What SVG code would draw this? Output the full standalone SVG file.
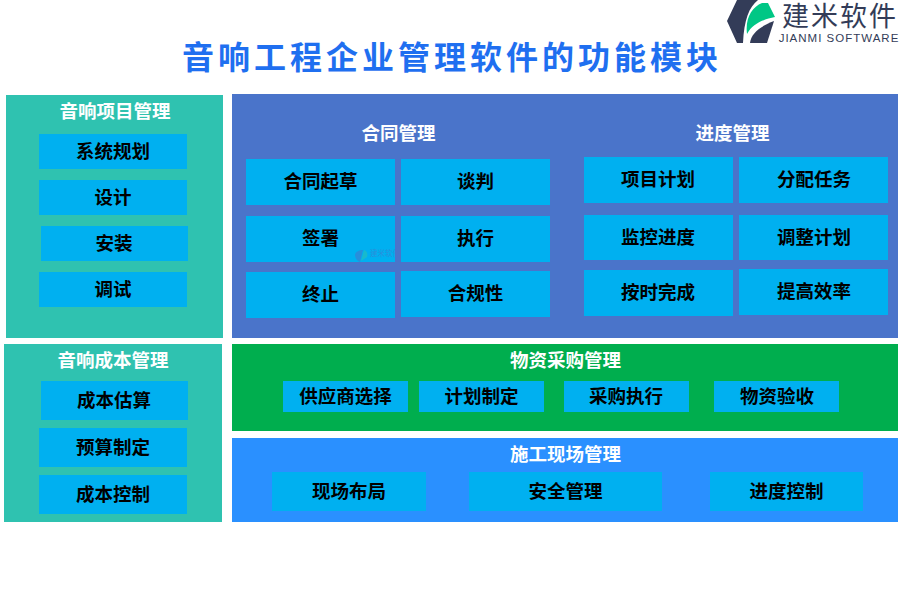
<svg xmlns="http://www.w3.org/2000/svg" width="900" height="600" viewBox="0 0 900 600">
<style>
text{font-family:"Noto Sans CJK SC","Liberation Sans",sans-serif;text-anchor:middle;dominant-baseline:central;font-weight:700}
.b{fill:#00b0f0}
.t{font-size:18.5px;fill:#000}
.h{font-size:18.5px;fill:#fff}
.title{font-size:32px;fill:#1f6ff0;letter-spacing:4px}
</style>
<rect width="900" height="600" fill="#fff"/>
<text id="title" class="title" x="452" y="55">音响工程企业管理软件的功能模块</text>
<g id="logo">
<path d="M737 0H758C749 7 744 20 743 43H737L727 21Z" fill="#333c58"/>
<path d="M747 34C745 18 752 7 762 3L768 3L775 17C765 19 753 23 747 34Z" fill="#00c785"/>
<path d="M750 43C751 33 761 26 774 21L767 43Z" fill="#333c58"/>
<text x="840" y="14" style="font-size:27px;font-weight:400;fill:#333c58;letter-spacing:2px">建米软件</text>
<text x="839" y="38" style="font-family:'Liberation Sans',sans-serif;font-size:11.5px;font-weight:400;fill:#333c58;letter-spacing:1px">JIANMI SOFTWARE</text>
</g>
<g id="panel-audio-project"><rect x="6" y="95" width="217" height="243" fill="#2fc2b0"/><text class="h" x="115" y="110">音响项目管理</text>
<rect class="b" x="39" y="134" width="148" height="35"/><text class="t" x="113" y="150">系统规划</text>
<rect class="b" x="39" y="180" width="148" height="35"/><text class="t" x="113" y="196">设计</text>
<rect class="b" x="41" y="226" width="147" height="35"/><text class="t" x="114" y="242">安装</text>
<rect class="b" x="39" y="272" width="148" height="35"/><text class="t" x="113" y="288">调试</text></g>
<g id="panel-audio-cost"><rect x="4" y="344" width="218" height="178" fill="#2fc2b0"/><text class="h" x="113" y="359">音响成本管理</text>
<rect class="b" x="41" y="381" width="147" height="39"/><text class="t" x="114" y="399">成本估算</text>
<rect class="b" x="39" y="428" width="148" height="39"/><text class="t" x="113" y="446">预算制定</text>
<rect class="b" x="39" y="475" width="148" height="39"/><text class="t" x="113" y="493">成本控制</text></g>
<g id="panel-contract-schedule"><rect x="232" y="94" width="666" height="244" fill="#4a74ca"/>
<text class="h" x="398.500" y="132">合同管理</text><text class="h" x="732.500" y="132">进度管理</text>
<rect class="b" x="246" y="159" width="149" height="46"/><text class="t" x="320.500" y="180">合同起草</text>
<rect class="b" x="401" y="159" width="149" height="46"/><text class="t" x="475.500" y="180">谈判</text>
<rect class="b" x="246" y="216" width="149" height="46"/><text class="t" x="320.500" y="237">签署</text>
<rect class="b" x="401" y="216" width="149" height="46"/><text class="t" x="475.500" y="237">执行</text>
<rect class="b" x="246" y="272" width="149" height="46"/><text class="t" x="320.500" y="293">终止</text>
<rect class="b" x="401" y="271" width="149" height="46"/><text class="t" x="475.500" y="292">合规性</text>
<rect class="b" x="584" y="157" width="149" height="46"/><text class="t" x="658" y="178">项目计划</text>
<rect class="b" x="739" y="157" width="149" height="46"/><text class="t" x="814" y="178">分配任务</text>
<rect class="b" x="584" y="215" width="149" height="45"/><text class="t" x="658" y="236">监控进度</text>
<rect class="b" x="739" y="215" width="149" height="45"/><text class="t" x="814" y="236">调整计划</text>
<rect class="b" x="584" y="270" width="149" height="46"/><text class="t" x="658" y="291">按时完成</text>
<rect class="b" x="739" y="269" width="149" height="46"/><text class="t" x="814" y="290">提高效率</text></g>
<g id="panel-purchase"><rect x="232" y="344" width="666" height="87" fill="#00ae4e"/><text class="h" x="565.500" y="359">物资采购管理</text>
<rect class="b" x="283" y="381" width="125" height="31"/><text class="t" x="345.500" y="395">供应商选择</text>
<rect class="b" x="419" y="381" width="125" height="31"/><text class="t" x="481.500" y="395">计划制定</text>
<rect class="b" x="564" y="381" width="125" height="31"/><text class="t" x="626" y="395">采购执行</text>
<rect class="b" x="714" y="381" width="125" height="31"/><text class="t" x="777" y="395">物资验收</text></g>
<g id="panel-site"><rect x="232" y="438" width="666" height="84" fill="#2a90ff"/><text class="h" x="565.500" y="453">施工现场管理</text>
<rect class="b" x="272" y="472" width="154" height="39"/><text class="t" x="349" y="490">现场布局</text>
<rect class="b" x="469" y="472" width="193" height="39"/><text class="t" x="565.500" y="490">安全管理</text>
<rect class="b" x="710" y="472" width="153" height="39"/><text class="t" x="786.500" y="490">进度控制</text></g>
<g id="watermark" opacity="0.55">
<path d="M355 255C355 252 359 250 363 250L360 262C357 261 355 258 355 255Z" fill="#4a74ca"/>
<path d="M361 261L364 250C367 251 368 254 367 257Z" fill="#2fc2b0"/>
<text x="385" y="252" style="font-size:7.500px;font-weight:400;fill:#4a74ca">建米软件</text>
</g>
</svg>
